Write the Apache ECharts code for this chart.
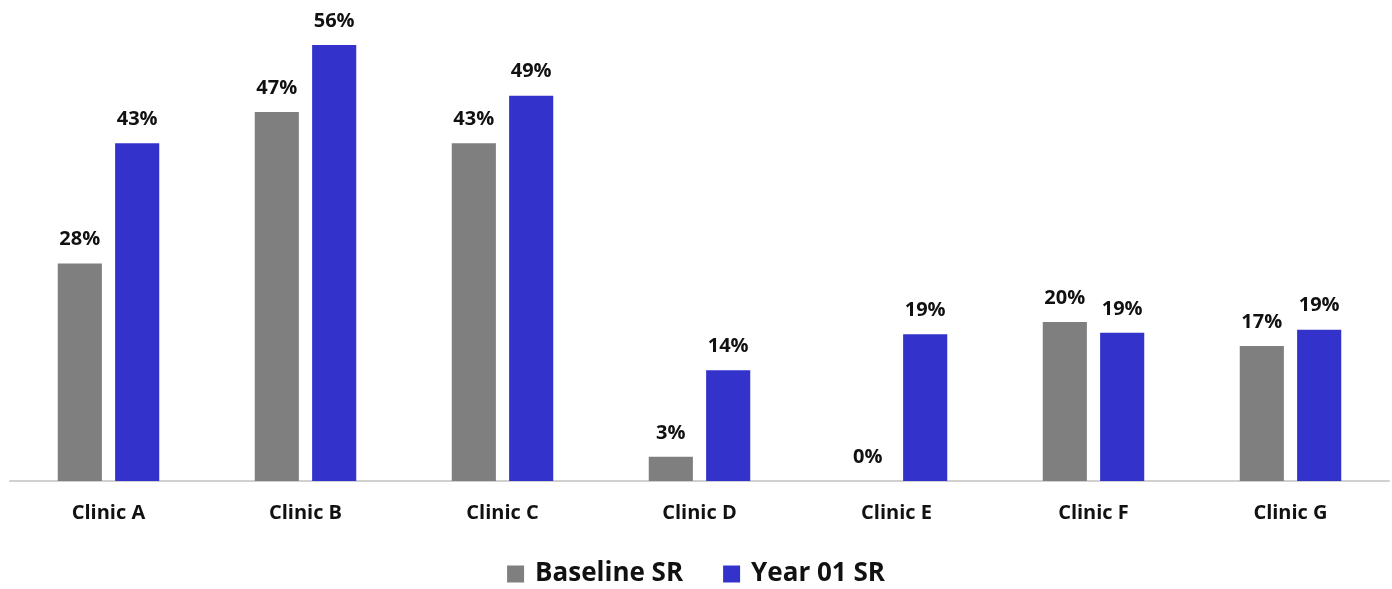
<!DOCTYPE html>
<html>
<head>
<meta charset="utf-8">
<script src="https://cdn.jsdelivr.net/npm/echarts@6/dist/echarts.min.js"></script>
<style>
html, body { margin: 0; padding: 0; background: #fff; }
#main { width: 1392px; height: 589px; }
</style>
</head>
<body>
<div id="main"></div>
<script>
var clinics = ['Clinic A', 'Clinic B', 'Clinic C', 'Clinic D', 'Clinic E', 'Clinic F', 'Clinic G'];
var baselineSR = [27.9, 47.3, 43.3, 3.1, 0, 20.4, 17.3];
var year01SR = [43.3, 55.9, 49.4, 14.2, 18.8, 19.0, 19.4];

var fontFam = '"Open Sans", "Liberation Sans", sans-serif';
var chart = echarts.init(document.getElementById('main'));

// rounded percent label above each bar
var labelOpt = {
    show: true,
    position: 'top',
    distance: 14,
    color: '#111',
    fontWeight: 'bold',
    fontSize: 20,
    fontFamily: fontFam,
    formatter: function (p) { return Math.round(p.value) + '%'; }
};

chart.setOption({
    animation: false,
    grid: { left: 10, right: 3, top: 13, bottom: 108 },
    legend: {
        top: 556,
        left: 'center',
        itemWidth: 17,
        itemHeight: 17,
        itemGap: 40,
        icon: 'rect',
        textStyle: { fontSize: 26, fontWeight: 'bold', color: '#111', fontFamily: fontFam, padding: [0, 0, 0, 6] },
        data: ['Baseline SR', 'Year 01 SR']
    },
    xAxis: {
        type: 'category',
        data: clinics,
        axisLine: { lineStyle: { color: '#d0d0d0', width: 2 } },
        axisTick: { show: false },
        axisLabel: { margin: 22, fontSize: 20, fontWeight: 'bold', color: '#111', fontFamily: fontFam }
    },
    yAxis: {
        type: 'value',
        min: 0,
        max: 60,
        show: false,
        splitLine: { show: false }
    },
    series: [{
        name: 'Baseline SR',
        type: 'bar',
        data: baselineSR,
        barWidth: '22.4%',
        barGap: '30%',
        itemStyle: { color: '#7f7f7f' },
        label: labelOpt
    }, {
        name: 'Year 01 SR',
        type: 'bar',
        data: year01SR,
        barWidth: '22.4%',
        itemStyle: { color: '#3333cc' },
        label: labelOpt
    }]
});
</script>
</body>
</html>
